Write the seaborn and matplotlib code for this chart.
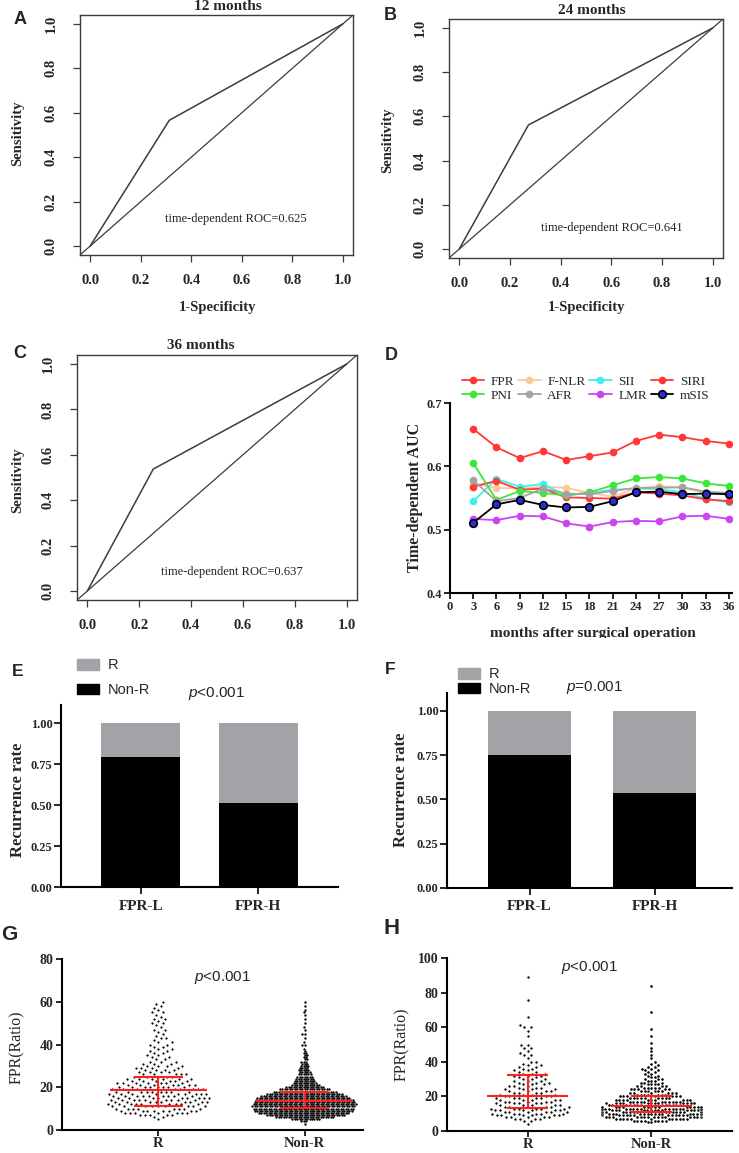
import numpy as np
import pandas as pd
import matplotlib
matplotlib.use("Agg")
import matplotlib.pyplot as plt
import seaborn as sns
from matplotlib.patches import Patch
from matplotlib.transforms import Bbox

# ==========================================
# DATA
# ==========================================

# panels A-C : time dependent ROC (one cut point each)
roc_titles = ["12 months", "24 months", "36 months"]
roc_fpr = [0.313, 0.273, 0.254]
roc_tpr = [0.566, 0.561, 0.537]
roc_auc = ["0.625", "0.641", "0.637"]

# panel D : time dependent AUC
months = [3, 6, 9, 12, 15, 18, 21, 24, 27, 30, 33, 36]
auc_FPR = [0.659, 0.630, 0.613, 0.624, 0.610, 0.616, 0.622, 0.640, 0.650, 0.646, 0.640, 0.636]
auc_PNI = [0.605, 0.547, 0.561, 0.558, 0.554, 0.559, 0.570, 0.581, 0.583, 0.581, 0.573, 0.569]
auc_FNLR = [0.573, 0.566, 0.565, 0.568, 0.566, 0.558, 0.552, 0.565, 0.569, 0.566, 0.558, 0.557]
auc_AFR = [0.578, 0.545, 0.550, 0.565, 0.557, 0.556, 0.561, 0.566, 0.566, 0.567, 0.560, 0.558]
auc_SII = [0.545, 0.580, 0.568, 0.572, 0.554, 0.558, 0.563, 0.565, 0.564, 0.559, 0.549, 0.543]
auc_SIRI = [0.568, 0.577, 0.563, 0.565, 0.551, 0.550, 0.549, 0.559, 0.557, 0.554, 0.548, 0.545]
auc_LMR = [0.517, 0.515, 0.522, 0.521, 0.510, 0.505, 0.512, 0.514, 0.513, 0.521, 0.522, 0.517]
auc_mSIS = [0.511, 0.540, 0.547, 0.539, 0.535, 0.536, 0.545, 0.559, 0.560, 0.556, 0.557, 0.556]

# panels E-F : recurrence rate
groups = ["FPR-L", "FPR-H"]
nonr_E = [0.793, 0.512]
r_E = [0.207, 0.488]
nonr_F = [0.751, 0.537]
r_F = [0.249, 0.463]

# panel G : FPR values (value level, number of patients)
g_r_vals = [5, 6, 7, 8, 9, 10, 11, 12, 13, 14, 15, 16, 17, 18, 19, 20, 21, 22, 23, 24,
            25, 26, 27, 28, 29, 30, 31, 32, 33, 34, 35, 36, 37, 38, 39, 40, 41, 42, 43,
            44, 45, 46, 47, 48, 49, 50, 51, 52, 53, 54, 55, 56, 57, 58, 59, 60]
g_r_counts = [1, 2, 5, 7, 8, 8, 9, 9, 9, 9, 9, 9, 9, 9, 8, 8, 7, 7, 6, 6,
              5, 5, 4, 4, 4, 4, 3, 3, 2, 2, 2, 2, 2, 2, 2, 2, 2, 1, 2,
              1, 1, 1, 2, 1, 1, 2, 1, 2, 1, 1, 2, 1, 1, 1, 1, 1]
g_n_vals = [3, 4, 5, 6, 7, 8, 9, 10, 11, 12, 13, 14, 15, 16, 17, 18, 19, 20, 21, 22,
            23, 24, 25, 26, 27, 28, 29, 30, 31, 32, 33, 34, 35, 36, 37, 38, 40, 41, 43,
            45, 47, 48, 50, 52, 54, 55, 56, 58, 60]
g_n_counts = [1, 3, 12, 24, 32, 37, 40, 41, 42, 42, 41, 40, 38, 35, 31, 26, 21, 16, 12, 10,
              9, 8, 7, 6, 5, 5, 4, 4, 3, 3, 2, 2, 2, 2, 1, 1, 2, 1, 1,
              2, 1, 1, 1, 1, 1, 1, 1, 1, 1]
g_med = [18.7, 13.7]
g_q1 = [11.2, 10.4]
g_q3 = [24.8, 17.8]

# panel H : FPR values (value level, number of patients)
h_r_vals = [4, 6, 7, 8, 9, 10, 11, 12, 13, 14, 15, 16, 17, 18, 19, 20, 21, 22, 23, 24,
            25, 26, 27, 28, 29, 30, 31, 32, 33, 34, 35, 36, 37, 38, 39, 40, 42, 44, 45,
            46, 48, 50, 55, 58, 60, 61, 66, 76, 89]
h_r_counts = [1, 2, 4, 5, 6, 6, 6, 6, 6, 6, 5, 5, 5, 5, 5, 5, 4, 4, 4, 4,
              3, 3, 3, 3, 3, 3, 2, 3, 3, 2, 2, 2, 2, 2, 1, 2, 1, 2, 1,
              1, 2, 2, 1, 1, 2, 1, 1, 1, 1]
h_n_vals = [5, 6, 7, 8, 9, 10, 11, 12, 13, 14, 15, 16, 17, 18, 19, 20, 21, 22, 23, 24,
            25, 26, 27, 28, 29, 30, 31, 32, 33, 34, 35, 36, 37, 38, 39, 40, 42, 44, 46,
            48, 51, 55, 59, 69, 84]
h_n_counts = [2, 8, 12, 15, 16, 16, 16, 16, 15, 14, 13, 12, 11, 10, 9, 8, 7, 6, 6, 5,
              5, 4, 4, 3, 3, 3, 2, 2, 2, 2, 2, 2, 2, 1, 1, 1, 1, 1, 1,
              1, 1, 1, 1, 1, 1]
h_med = [20.0, 14.6]
h_q1 = [13.1, 10.8]
h_q3 = [32.2, 20.0]

# ==========================================
# STYLE
# ==========================================

sns.set_style("white")
SERIF = "Liberation Serif"
SANS = "Liberation Sans"
plt.rcParams["font.family"] = [SERIF, "DejaVu Sans"]
plt.rcParams["mathtext.fontset"] = "custom"
plt.rcParams["mathtext.it"] = "Liberation Sans:italic"
plt.rcParams["mathtext.rm"] = "Liberation Sans"

W, H = 739, 1153
fig = plt.figure(figsize=(W / 100, H / 100), dpi=100)


def fx(x):
    return x / W


def fy(y):
    return 1 - y / H


def box(l, t, r, b):
    return [l / W, 1 - b / H, (r - l) / W, (b - t) / H]


def letter(x, y, s, size):
    fig.text(fx(x), fy(y), s, fontfamily=SANS, fontweight="bold",
             fontsize=size, ha="center", va="center")


def ftext(x, y, s, **kw):
    return fig.text(fx(x), fy(y), s, ha="center", va="center", **kw)


# ==========================================
# A - C : ROC CURVES
# ==========================================

roc_boxes = [(80, 15, 353, 255), (449, 19, 723, 258), (77, 355, 357, 600)]
roc_text_xy = [(0.575, 0.12), (0.60, 0.095), (0.557, 0.084)]
roc_title_xy = [(228, 7), (592, 10), (201, 345)]
roc_ylab_xy = [(18, 133), (388, 140), (18, 480)]
roc_xlab_xy = [(218, 307), (587, 307), None]
roc_letters = [("A", 20, 19), ("B", 390, 16), ("C", 20, 354)]

ticks = [0, 0.2, 0.4, 0.6, 0.8, 1.0]
for i in range(3):
    ax = fig.add_axes(box(*roc_boxes[i]))
    sns.lineplot(x=[0, roc_fpr[i], 1], y=[0, roc_tpr[i], 1], sort=False,
                 color="#3c3c3c", lw=1.1, ax=ax)
    ax.axline((0, 0), slope=1, color="#3c3c3c", lw=0.9)
    ax.set_xlim(-0.04, 1.04)
    ax.set_ylim(-0.04, 1.04)
    ax.set_xticks(ticks)
    ax.set_xticklabels([f"{t:.1f}" for t in ticks], fontweight="bold", fontsize=10.5)
    ax.set_yticks(ticks)
    ax.set_yticklabels([f"{t:.1f}" for t in ticks], fontweight="bold", fontsize=10.5,
                       rotation=90, va="center")
    ax.tick_params(direction="out", length=5, width=0.9, color="#3c3c3c",
                   bottom=True, left=True)
    ax.tick_params(axis="x", pad=9)
    ax.tick_params(axis="y", pad=11)
    for sp in ax.spines.values():
        sp.set_visible(True)
        sp.set_color("#3c3c3c")
        sp.set_linewidth(1.0)
    ax.text(roc_text_xy[i][0], roc_text_xy[i][1],
            f"time-dependent ROC={roc_auc[i]}", ha="center", va="center",
            fontsize=9, color="#222222")
    ftext(*roc_title_xy[i], roc_titles[i], fontweight="bold", fontsize=11)
    ftext(*roc_ylab_xy[i], "Sensitivity", fontweight="bold", fontsize=10.5,
          rotation=90)
    if roc_xlab_xy[i] is not None:
        ftext(*roc_xlab_xy[i], "1-Specificity", fontweight="bold", fontsize=10.5)
    letter(roc_letters[i][1], roc_letters[i][2], roc_letters[i][0], 13)

# ==========================================
# D : TIME DEPENDENT AUC
# ==========================================

axd = fig.add_axes(box(450, 403, 732, 593))
d_names = ["FPR", "F-NLR", "SII", "SIRI", "PNI", "AFR", "LMR", "mSIS"]
d_values = [auc_FPR, auc_FNLR, auc_SII, auc_SIRI, auc_PNI, auc_AFR, auc_LMR, auc_mSIS]
d_colors = ["#FF3838", "#FFC898", "#3EF0F0", "#FF3838", "#3AE83A", "#A3A3A3",
            "#CC44F2", "black"]
for name, vals, col in zip(d_names, d_values, d_colors):
    face = "#2B2BD9" if name == "mSIS" else col
    sns.lineplot(x=months, y=vals, color=col, lw=1.3, marker="o", markersize=5.5,
                 markerfacecolor=face, markeredgecolor=col,
                 markeredgewidth=1.2 if name == "mSIS" else 0, label=name, ax=axd)
axd.set_xlim(0, 36.4)
axd.set_ylim(0.4, 0.7)
axd.set_xticks(range(0, 37, 3))
axd.set_xticklabels([str(m) for m in range(0, 37, 3)], fontweight="bold", fontsize=9)
axd.set_yticks([0.4, 0.5, 0.6, 0.7])
axd.set_yticklabels(["0.4", "0.5", "0.6", "0.7"], fontweight="bold", fontsize=9)
axd.tick_params(direction="out", length=4, width=1.4, bottom=True, left=True, pad=2)
sns.despine(ax=axd)
for sp in ["left", "bottom"]:
    axd.spines[sp].set_linewidth(1.5)
    axd.spines[sp].set_color("black")
handles, labels = axd.get_legend_handles_labels()
order = ["FPR", "PNI", "F-NLR", "AFR", "SII", "LMR", "SIRI", "mSIS"]
hmap = dict(zip(labels, handles))
axd.legend([hmap[k] for k in order], order, ncol=4, frameon=False,
           loc="upper left", bbox_to_anchor=(fx(455), fy(369)),
           bbox_transform=fig.transFigure, fontsize=9.5, handlelength=1.7,
           handletextpad=0.5, columnspacing=0.3, labelspacing=0.15, borderpad=0)
axd.set_xlabel("")
axd.set_ylabel("")
ftext(415, 497, "Time-dependent AUC", fontweight="bold", fontsize=11.5, rotation=90)
# axis title is cut off by the panel below in the original figure
xl = ftext(593, 634, "months after surgical operation", fontweight="bold",
           fontsize=11)
xl.set_clip_box(Bbox.from_extents(0, H - 638, W, H))
xl.set_clip_on(True)
letter(391, 355, "D", 13)

# ==========================================
# E - F : RECURRENCE RATE
# ==========================================

bar_boxes = [(61, 705, 338, 887), (447, 693, 732, 888)]
bar_ylim = [1.11, 1.10]
bar_xlim = [(-0.68, 1.68), (-0.66, 1.62)]
bar_nonr = [nonr_E, nonr_F]
bar_r = [r_E, r_F]
bar_ptext = [(217, 693, "$\\mathit{p}$<0.001"), (595, 687, "$\\mathit{p}$=0.001")]
bar_leg = [(70, 651, 0.75), (451, 660, 0.05)]
bar_ylab = [(18, 800), (401, 790)]
bar_letters = [("E", 18, 671), ("F", 390, 669)]

for i in range(2):
    ax = fig.add_axes(box(*bar_boxes[i]))
    total = [a + b for a, b in zip(bar_nonr[i], bar_r[i])]
    sns.barplot(x=groups, y=total, color="#A3A3A7", saturation=1, width=0.67,
                linewidth=0, ax=ax)
    sns.barplot(x=groups, y=bar_nonr[i], color="black", saturation=1, width=0.67,
                linewidth=0, ax=ax)
    ax.set_xlim(*bar_xlim[i])
    ax.set_ylim(0, bar_ylim[i])
    ax.set_yticks([0, 0.25, 0.5, 0.75, 1.0])
    ax.set_yticklabels(["0.00", "0.25", "0.50", "0.75", "1.00"], fontweight="bold",
                       fontsize=9)
    ax.set_xticks([0, 1])
    ax.set_xticklabels(groups, fontweight="bold", fontsize=11)
    ax.tick_params(direction="out", length=5, width=1.4, bottom=True, left=True)
    ax.tick_params(axis="x", pad=4)
    ax.tick_params(axis="y", pad=1)
    sns.despine(ax=ax)
    for sp in ["left", "bottom"]:
        ax.spines[sp].set_linewidth(1.5)
        ax.spines[sp].set_color("black")
    ax.set_xlabel("")
    ax.set_ylabel("")
    ax.legend([Patch(color="#A3A3A7"), Patch(color="black")], ["R", "Non-R"],
              loc="upper left", bbox_to_anchor=(fx(bar_leg[i][0]), fy(bar_leg[i][1])),
              bbox_transform=fig.transFigure, frameon=False, prop={"family": SANS,
              "size": 10.5}, handlelength=1.5, handleheight=0.75, handletextpad=0.6,
              labelspacing=bar_leg[i][2], borderpad=0)
    ftext(bar_ptext[i][0], bar_ptext[i][1], bar_ptext[i][2], fontfamily=SANS,
          fontsize=11)
    ftext(*bar_ylab[i], "Recurrence rate", fontweight="bold", fontsize=12,
          rotation=90)
    letter(bar_letters[i][1], bar_letters[i][2], bar_letters[i][0], 12.5)

# ==========================================
# G - H : FPR DISTRIBUTION
# ==========================================

sw_boxes = [(62, 959, 363, 1130), (447, 958, 732, 1131)]
sw_ylim = [80, 100]
sw_xlim = [(-0.66, 1.40), (-0.65, 1.65)]
sw_r = [(g_r_vals, g_r_counts), (h_r_vals, h_r_counts)]
sw_n = [(g_n_vals, g_n_counts), (h_n_vals, h_n_counts)]
sw_stats = [(g_med, g_q1, g_q3), (h_med, h_q1, h_q3)]
sw_style_r = [(2.5, 0.9), (2.5, 0.8)]
sw_style_n = [(1.7, 0.0), (2.2, 0.3)]
sw_ptext = [(223, 978), (590, 968)]
sw_ylab = [(17, 1047), (402, 1044)]
sw_letters = [("G", 9, 934, 15), ("H", 392, 928, 16)]
cats = ["R", "Non-R"]

for i in range(2):
    ax = fig.add_axes(box(*sw_boxes[i]))
    df_r = pd.DataFrame({"grp": "R", "val": np.repeat(sw_r[i][0], sw_r[i][1])})
    df_n = pd.DataFrame({"grp": "Non-R", "val": np.repeat(sw_n[i][0], sw_n[i][1])})
    sns.swarmplot(data=df_r, x="grp", y="val", order=cats, color="black",
                  size=sw_style_r[i][0], linewidth=sw_style_r[i][1],
                  edgecolor="white", warn_thresh=1, ax=ax)
    sns.swarmplot(data=df_n, x="grp", y="val", order=cats, color="black",
                  size=sw_style_n[i][0], linewidth=sw_style_n[i][1],
                  edgecolor="white", warn_thresh=1, ax=ax)
    med, q1, q3 = sw_stats[i]
    pos = np.arange(len(cats))
    ax.hlines(med, pos - 0.33, pos + 0.33, color="#FF2020", lw=1.5, zorder=5)
    ax.hlines(q1, pos - 0.165, pos + 0.165, color="#FF2020", lw=1.5, zorder=5)
    ax.hlines(q3, pos - 0.165, pos + 0.165, color="#FF2020", lw=1.5, zorder=5)
    ax.vlines(pos, q1, q3, color="#FF2020", lw=1.5, zorder=5)
    ax.set_xlim(*sw_xlim[i])
    ax.set_ylim(0, sw_ylim[i])
    yt = list(range(0, sw_ylim[i] + 1, 20))
    ax.set_yticks(yt)
    ax.set_yticklabels([str(t) for t in yt], fontweight="bold", fontsize=10)
    ax.set_xticks(pos)
    ax.set_xticklabels(cats, fontweight="bold", fontsize=10.5)
    ax.tick_params(direction="out", length=4, width=1.4, bottom=True, left=True)
    ax.tick_params(axis="x", pad=1)
    ax.tick_params(axis="y", pad=2)
    sns.despine(ax=ax)
    for sp in ["left", "bottom"]:
        ax.spines[sp].set_linewidth(1.5)
        ax.spines[sp].set_color("black")
    ax.set_xlabel("")
    ax.set_ylabel("")
    ftext(*sw_ptext[i], "$\\mathit{p}$<0.001", fontfamily=SANS, fontsize=11)
    ftext(*sw_ylab[i], "FPR(Ratio)", fontsize=11.5, rotation=90)
    letter(sw_letters[i][1], sw_letters[i][2], sw_letters[i][0], sw_letters[i][3])

fig.savefig("out.png", dpi=100)
